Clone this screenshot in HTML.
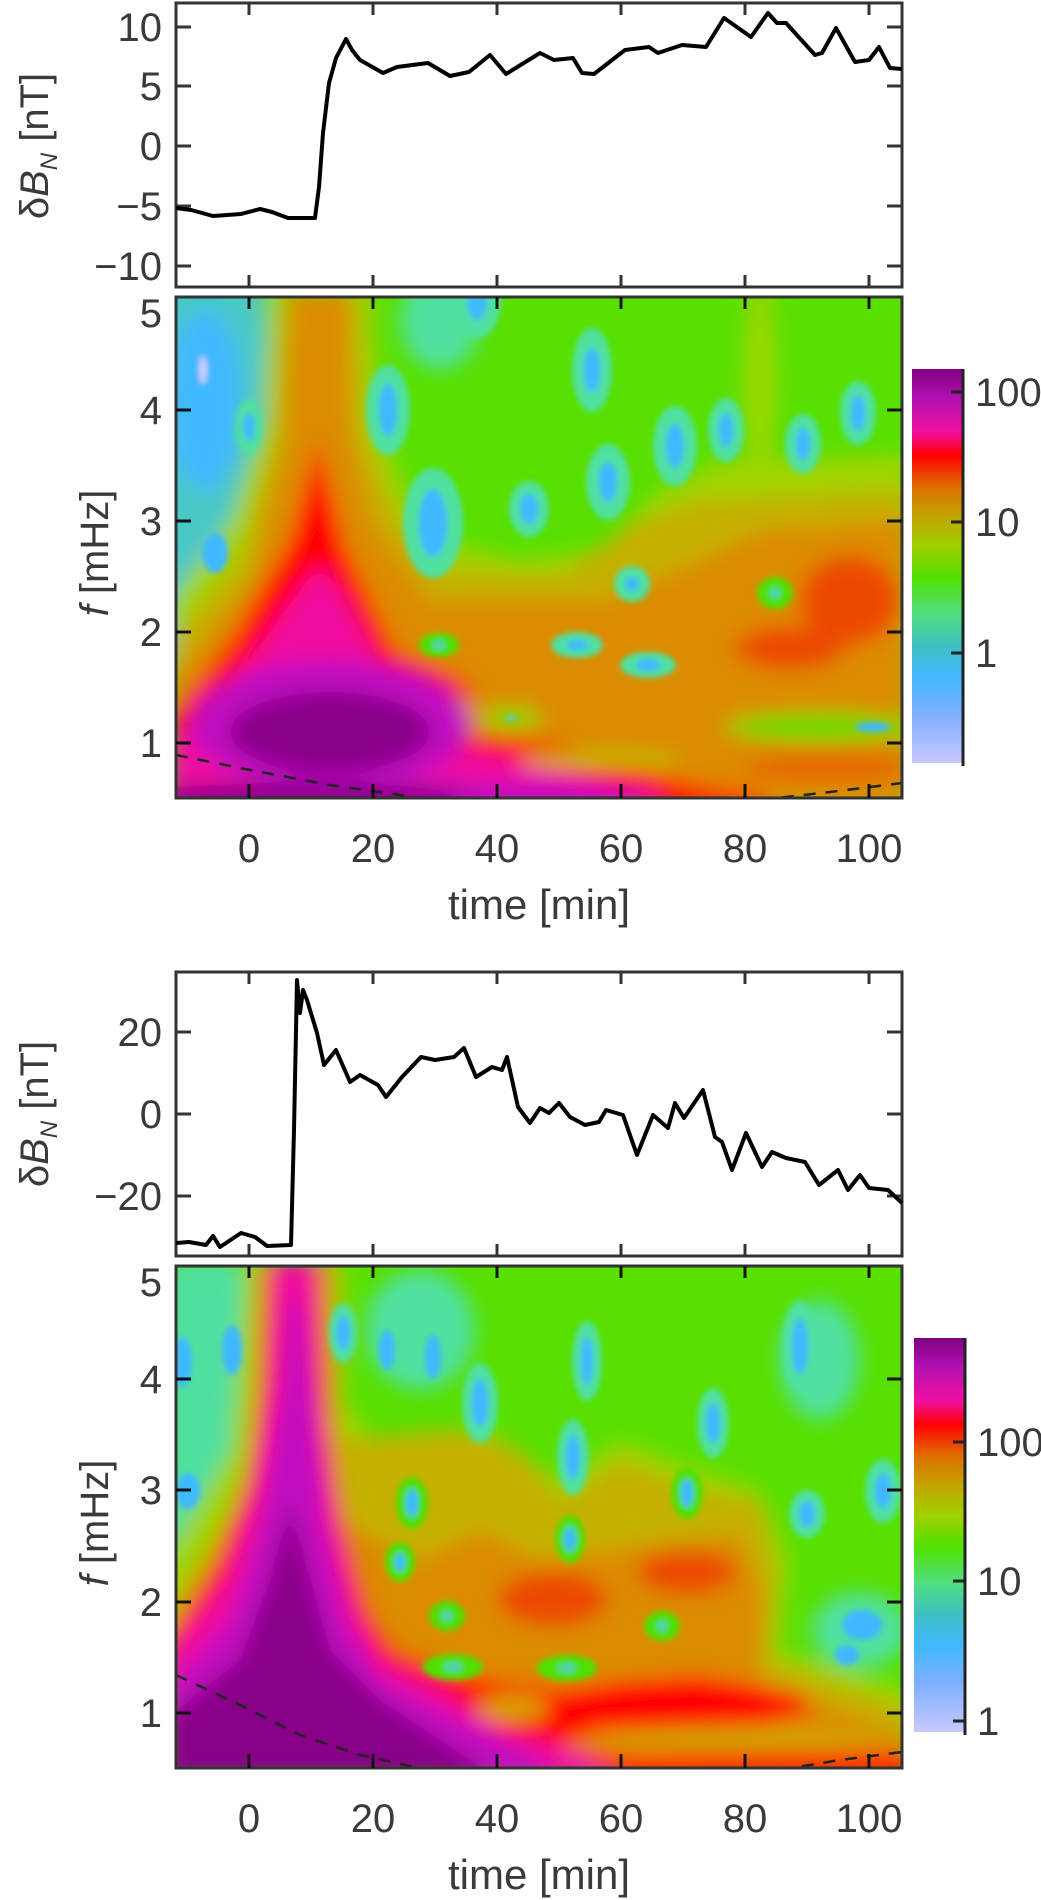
<!DOCTYPE html>
<html><head><meta charset="utf-8"><style>
html,body{margin:0;padding:0;background:#fff;}
svg{display:block;}
text{font-family:"Liberation Sans",sans-serif;fill:#3a3a3a;}
</style></head><body>
<svg width="1041" height="1900" viewBox="0 0 1041 1900" xmlns="http://www.w3.org/2000/svg">
<defs>
<filter id="b1" x="-20%" y="-20%" width="140%" height="140%"><feGaussianBlur stdDeviation="10"/></filter>
<filter id="b2" x="-50%" y="-50%" width="200%" height="200%"><feGaussianBlur stdDeviation="3"/></filter>
<clipPath id="c1"><rect x="176" y="297" width="726" height="501"/></clipPath>
<clipPath id="c2"><rect x="176" y="1266" width="726" height="502"/></clipPath>
<linearGradient id="cb" x1="0" y1="0" x2="0" y2="1">
<stop offset="0" stop-color="#800080"/><stop offset="0.07" stop-color="#b010b0"/><stop offset="0.16" stop-color="#f010a0"/>
<stop offset="0.22" stop-color="#ff0000"/><stop offset="0.30" stop-color="#e07000"/><stop offset="0.38" stop-color="#c0a800"/>
<stop offset="0.45" stop-color="#a0d000"/><stop offset="0.53" stop-color="#50e000"/><stop offset="0.62" stop-color="#50e080"/>
<stop offset="0.70" stop-color="#40c0c0"/><stop offset="0.78" stop-color="#40b8ff"/><stop offset="0.88" stop-color="#80b0ff"/>
<stop offset="1" stop-color="#c8c8ff"/></linearGradient>
</defs>

<!-- ============ PANEL 1 LINE ============ -->
<rect x="176" y="3" width="726" height="284" fill="#fff" stroke="#333" stroke-width="3"/>
<g stroke="#333" stroke-width="3">
<path d="M249 3v12M373 3v12M497 3v12M621 3v12M745 3v12M869 3v12M249 287v-12M373 287v-12M497 287v-12M621 287v-12M745 287v-12M869 287v-12"/>
<path d="M176 27h15M176 86h15M176 146h15M176 206h15M176 266h15M902 27h-15M902 86h-15M902 146h-15M902 206h-15M902 266h-15"/>
</g>
<polyline fill="none" stroke="#000" stroke-width="4" stroke-linejoin="round" points="176,208 191,210 213,216 241,214 260,209 272,212 288,218 315,218 319,187 323,133 329,83 336,58 346,39 352,50 360,60 383,73 397,67 428,63 450,76 469,72 490,55 506,74 540,53 554,60 573,58 582,73 594,74 625,50 649,47 658,53 682,45 706,47 724,18 751,37 768,13 777,23 786,23 815,55 822,53 836,28 855,62 869,60 879,47 890,68 902,69"/>
<g font-size="40" text-anchor="end">
<text x="162" y="41">10</text><text x="162" y="100">5</text><text x="162" y="160">0</text><text x="162" y="220">−5</text><text x="162" y="280">−10</text>
</g>
<text transform="translate(48,146) rotate(-90)" text-anchor="middle" font-size="40">δ<tspan font-style="italic">B</tspan><tspan font-size="24" dy="9" font-style="italic">N</tspan><tspan dy="-9"> [nT]</tspan></text>

<!-- ============ PANEL 1 SPECTROGRAM ============ -->
<g clip-path="url(#c1)">
<rect x="170" y="290" width="740" height="515" fill="#58e000"/>
<g filter="url(#b1)">
<path d="M150 280 L262 280 L272 420 L262 560 L230 640 L150 660 Z" fill="#48c8c8"/>
<ellipse cx="205" cy="400" rx="35" ry="90" fill="#40b8ff"/>
<ellipse cx="440" cy="320" rx="40" ry="50" fill="#50e0a0"/>
<ellipse cx="760" cy="380" rx="18" ry="100" fill="#98d800"/>
<path d="M268 290 L372 290 L380 420 L410 500 L460 545 L520 560 L600 550 L660 490 L720 460 L910 455 L910 810 L170 810 L170 600 L230 520 L262 420 Z" fill="#a0d400"/>
<path d="M282 290 L358 290 L365 440 L400 520 L450 570 L560 575 L640 520 L700 500 L910 490 L910 810 L170 810 L170 640 L240 560 L272 440 Z" fill="#c4b000"/>
<path d="M292 290 L348 290 L350 420 L372 520 L430 600 L600 600 L700 560 L760 530 L910 520 L910 810 L170 810 L170 680 L250 580 L285 440 Z" fill="#dc8c00"/>
<ellipse cx="850" cy="600" rx="50" ry="45" fill="#ec4800"/>
<ellipse cx="790" cy="648" rx="55" ry="22" fill="#ec4800"/>
<ellipse cx="830" cy="768" rx="90" ry="12" fill="#e86000"/>
<path d="M170 715 L230 640 L290 540 L318 440 L345 545 L395 650 L440 668 L480 690 L430 705 L470 735 L560 745 L620 765 L700 785 L770 796 L770 810 L170 810 Z" fill="#ff0000"/>
<path d="M170 745 L250 660 L300 590 L320 565 L345 600 L380 665 L410 690 L400 712 L450 745 L560 772 L660 794 L660 810 L170 810 Z" fill="#f010a0"/>
<ellipse cx="330" cy="725" rx="140" ry="65" fill="#c010c0"/>
<ellipse cx="400" cy="802" rx="250" ry="20" fill="#c010c0"/>
<ellipse cx="330" cy="732" rx="100" ry="40" fill="#880088"/>
<ellipse cx="300" cy="798" rx="170" ry="15" fill="#880088"/>
<ellipse cx="820" cy="727" rx="95" ry="13" fill="#58e000"/>
<ellipse cx="600" cy="760" rx="80" ry="6" fill="#a8d000"/>
<ellipse cx="511" cy="718" rx="30" ry="9" fill="#70e000"/>
</g>
<g filter="url(#b2)">
<g fill="#50e0a0">
<ellipse cx="249" cy="427" rx="14" ry="28"/><ellipse cx="388" cy="410" rx="22" ry="45"/><ellipse cx="433" cy="523" rx="30" ry="55"/>
<ellipse cx="477" cy="300" rx="24" ry="38"/><ellipse cx="529" cy="509" rx="20" ry="28"/><ellipse cx="592" cy="370" rx="20" ry="42"/>
<ellipse cx="608" cy="482" rx="22" ry="38"/><ellipse cx="675" cy="446" rx="22" ry="40"/><ellipse cx="726" cy="430" rx="18" ry="32"/>
<ellipse cx="803" cy="444" rx="18" ry="30"/><ellipse cx="858" cy="413" rx="18" ry="32"/><ellipse cx="632" cy="584" rx="18" ry="18"/>
<ellipse cx="648" cy="665" rx="28" ry="13"/><ellipse cx="577" cy="645" rx="26" ry="13"/>
</g>
<g fill="#50e000"><ellipse cx="775" cy="593" rx="18" ry="16"/><ellipse cx="439" cy="645" rx="20" ry="12"/></g>
<g fill="#40b8ff">
<ellipse cx="203" cy="372" rx="10" ry="30"/><ellipse cx="249" cy="427" rx="6" ry="14"/><ellipse cx="215" cy="553" rx="13" ry="20"/>
<ellipse cx="388" cy="410" rx="9" ry="26"/><ellipse cx="433" cy="523" rx="14" ry="34"/><ellipse cx="477" cy="300" rx="10" ry="20"/>
<ellipse cx="529" cy="509" rx="9" ry="15"/><ellipse cx="592" cy="370" rx="8" ry="22"/><ellipse cx="608" cy="482" rx="9" ry="20"/>
<ellipse cx="675" cy="446" rx="9" ry="22"/><ellipse cx="726" cy="430" rx="7" ry="17"/><ellipse cx="803" cy="444" rx="7" ry="16"/>
<ellipse cx="858" cy="413" rx="7" ry="18"/><ellipse cx="632" cy="584" rx="7" ry="7"/><ellipse cx="648" cy="665" rx="12" ry="6"/>
<ellipse cx="577" cy="645" rx="11" ry="5"/><ellipse cx="873" cy="727" rx="18" ry="5"/>
</g>
<g fill="#50d0c0"><ellipse cx="775" cy="593" rx="5" ry="5"/><ellipse cx="439" cy="645" rx="6" ry="4"/><ellipse cx="511" cy="718" rx="6" ry="3"/></g>
<ellipse cx="203" cy="370" rx="4" ry="14" fill="#d0d0ff"/>
</g>
<polyline fill="none" stroke="#222" stroke-width="2.5" stroke-dasharray="12 10" points="176,755 250,770 330,785 400,795 430,800"/>
<polyline fill="none" stroke="#222" stroke-width="2.5" stroke-dasharray="12 10" points="760,800 830,792 902,783"/>
</g>
<rect x="176" y="297" width="726" height="501" fill="none" stroke="#333" stroke-width="3"/>
<g stroke="#111" stroke-width="3">
<path d="M249 297v12M373 297v12M497 297v12M621 297v12M745 297v12M869 297v12M249 798v-14M373 798v-14M497 798v-14M621 798v-14M745 798v-14M869 798v-14"/>
<path d="M176 743h15M176 632h15M176 521h15M176 410h15M902 743h-15M902 632h-15M902 521h-15M902 410h-15"/>
</g>
<g font-size="40" text-anchor="end">
<text x="162" y="327">5</text><text x="162" y="424">4</text><text x="162" y="535">3</text><text x="162" y="646">2</text><text x="162" y="757">1</text>
</g>
<text transform="translate(108,553) rotate(-90)" text-anchor="middle" font-size="40"><tspan font-style="italic">f</tspan> [mHz]</text>
<g font-size="40" text-anchor="middle">
<text x="249" y="862">0</text><text x="373" y="862">20</text><text x="497" y="862">40</text><text x="621" y="862">60</text><text x="745" y="862">80</text><text x="869" y="862">100</text>
</g>
<text x="539" y="919" text-anchor="middle" font-size="42">time [min]</text>
<!-- colorbar 1 -->
<rect x="912" y="369" width="51" height="394" fill="url(#cb)"/>
<path d="M963 369V766" stroke="#222" stroke-width="3"/>
<path d="M963 392h-12M963 522h-12M963 653h-12" stroke="#222" stroke-width="3"/>
<g font-size="40"><text x="975" y="406">100</text><text x="975" y="536">10</text><text x="975" y="667">1</text></g>

<!-- ============ PANEL 2 LINE ============ -->
<rect x="176" y="972" width="726" height="284" fill="#fff" stroke="#333" stroke-width="3"/>
<g stroke="#333" stroke-width="3">
<path d="M249 972v12M373 972v12M497 972v12M621 972v12M745 972v12M869 972v12M249 1256v-12M373 1256v-12M497 1256v-12M621 1256v-12M745 1256v-12M869 1256v-12"/>
<path d="M176 1032h15M176 1114h15M176 1196h15M902 1032h-15M902 1114h-15M902 1196h-15"/>
</g>
<polyline fill="none" stroke="#000" stroke-width="4" stroke-linejoin="round" points="176,1243 189,1242 206,1245 213,1236 220,1247 241,1233 255,1237 267,1246 291,1245 294,1130 297,980 300,1013 303,990 307,1000 317,1033 324,1065 336,1050 350,1082 360,1075 378,1085 386,1097 402,1077 421,1057 435,1060 454,1057 464,1048 476,1077 492,1067 502,1070 507,1057 518,1107 530,1123 540,1108 549,1113 559,1103 570,1117 585,1125 599,1122 606,1110 623,1115 637,1155 653,1115 668,1128 675,1103 684,1118 703,1090 715,1137 722,1142 732,1170 746,1133 762,1167 772,1152 786,1158 805,1162 819,1185 838,1170 848,1190 860,1175 869,1188 888,1190 902,1203"/>
<g font-size="40" text-anchor="end">
<text x="162" y="1046">20</text><text x="162" y="1128">0</text><text x="162" y="1210">−20</text>
</g>
<text transform="translate(48,1114) rotate(-90)" text-anchor="middle" font-size="40">δ<tspan font-style="italic">B</tspan><tspan font-size="24" dy="9" font-style="italic">N</tspan><tspan dy="-9"> [nT]</tspan></text>

<!-- ============ PANEL 2 SPECTROGRAM ============ -->
<g clip-path="url(#c2)">
<rect x="170" y="1260" width="740" height="515" fill="#58e000"/>
<g filter="url(#b1)">
<path d="M165 1260 L240 1260 L252 1400 L240 1520 L210 1600 L165 1625 Z" fill="#50e0a0"/>
<ellipse cx="420" cy="1330" rx="55" ry="60" fill="#50e0a0"/>
<ellipse cx="820" cy="1360" rx="40" ry="60" fill="#50e0a0"/>
<ellipse cx="860" cy="1630" rx="48" ry="38" fill="#50e0a0"/>
<path d="M245 1260 L345 1260 L345 1400 L380 1450 L480 1425 L560 1480 L620 1440 L700 1470 L760 1490 L790 1560 L780 1650 L910 1690 L910 1780 L165 1780 L165 1560 L230 1450 Z" fill="#a0d400"/>
<path d="M255 1260 L335 1260 L340 1440 L450 1430 L520 1450 L560 1500 L620 1460 L700 1490 L760 1500 L775 1570 L770 1660 L910 1710 L910 1780 L165 1780 L165 1610 L255 1480 Z" fill="#c4b000"/>
<path d="M262 1260 L325 1260 L340 1520 L420 1560 L480 1530 L540 1560 L640 1545 L740 1535 L765 1600 L760 1680 L910 1735 L910 1780 L165 1780 L165 1670 L245 1560 Z" fill="#dc8c00"/>
<ellipse cx="553" cy="1599" rx="55" ry="28" fill="#ec4800"/>
<ellipse cx="687" cy="1572" rx="50" ry="22" fill="#ec4800"/>
<path d="M165 1690 L165 1640 L215 1560 L245 1480 L262 1380 L268 1260 L320 1260 L326 1420 L345 1530 L368 1610 L395 1650 L460 1675 L560 1690 L620 1680 L700 1675 L800 1692 L815 1712 L760 1725 L600 1730 L560 1745 L620 1756 L910 1752 L910 1780 L165 1780 Z" fill="#ff0000"/>
<ellipse cx="513" cy="1708" rx="35" ry="12" fill="#d0a800"/>
<ellipse cx="750" cy="1739" rx="150" ry="6" fill="#c8b000"/>
<path d="M165 1700 L165 1660 L225 1580 L255 1490 L272 1380 L275 1260 L313 1260 L318 1400 L335 1520 L355 1610 L380 1660 L440 1690 L510 1735 L580 1752 L620 1780 L165 1780 Z" fill="#f010a0"/>
<path d="M165 1720 L165 1690 L230 1620 L262 1520 L282 1400 L290 1300 L300 1300 L310 1400 L322 1520 L345 1620 L380 1680 L460 1720 L540 1760 L560 1780 L165 1780 Z" fill="#c010c0"/>
<path d="M165 1780 L165 1720 L240 1660 L270 1580 L290 1500 L305 1560 L330 1650 L380 1700 L440 1740 L500 1780 Z" fill="#880088"/>
</g>
<g filter="url(#b2)">
<g fill="#50e000">
<ellipse cx="447" cy="1616" rx="18" ry="15"/><ellipse cx="662" cy="1626" rx="18" ry="15"/><ellipse cx="453" cy="1667" rx="30" ry="13"/>
<ellipse cx="567" cy="1668" rx="30" ry="13"/><ellipse cx="400" cy="1562" rx="15" ry="20"/><ellipse cx="412" cy="1503" rx="16" ry="26"/>
<ellipse cx="570" cy="1539" rx="15" ry="24"/><ellipse cx="687" cy="1493" rx="16" ry="26"/>
</g>
<g fill="#50e0a0">
<ellipse cx="573" cy="1457" rx="16" ry="38"/><ellipse cx="713" cy="1423" rx="16" ry="35"/><ellipse cx="480" cy="1403" rx="18" ry="40"/>
<ellipse cx="587" cy="1361" rx="15" ry="40"/><ellipse cx="800" cy="1346" rx="18" ry="45"/><ellipse cx="807" cy="1514" rx="18" ry="24"/>
<ellipse cx="883" cy="1491" rx="18" ry="32"/><ellipse cx="343" cy="1333" rx="14" ry="30"/>
</g>
<g fill="#40b8ff">
<ellipse cx="182" cy="1362" rx="10" ry="25"/><ellipse cx="232" cy="1350" rx="10" ry="25"/><ellipse cx="188" cy="1491" rx="12" ry="18"/>
<ellipse cx="387" cy="1350" rx="8" ry="20"/><ellipse cx="433" cy="1357" rx="8" ry="22"/><ellipse cx="343" cy="1333" rx="7" ry="17"/>
<ellipse cx="862" cy="1625" rx="20" ry="15"/><ellipse cx="847" cy="1655" rx="12" ry="10"/>
<ellipse cx="573" cy="1457" rx="7" ry="22"/><ellipse cx="713" cy="1423" rx="7" ry="20"/><ellipse cx="480" cy="1403" rx="8" ry="24"/>
<ellipse cx="587" cy="1361" rx="6" ry="24"/><ellipse cx="800" cy="1346" rx="8" ry="28"/><ellipse cx="807" cy="1514" rx="8" ry="13"/>
<ellipse cx="883" cy="1491" rx="8" ry="18"/><ellipse cx="412" cy="1503" rx="6" ry="14"/><ellipse cx="687" cy="1493" rx="6" ry="14"/>
<ellipse cx="570" cy="1539" rx="6" ry="12"/><ellipse cx="400" cy="1562" rx="5" ry="9"/>
</g>
<g fill="#50d0c0">
<ellipse cx="447" cy="1616" rx="5" ry="5"/><ellipse cx="662" cy="1626" rx="5" ry="5"/><ellipse cx="453" cy="1667" rx="9" ry="4"/><ellipse cx="567" cy="1668" rx="9" ry="4"/>
</g>
</g>
<polyline fill="none" stroke="#222" stroke-width="2.5" stroke-dasharray="12 10" points="176,1675 240,1705 300,1735 360,1755 420,1768"/>
<polyline fill="none" stroke="#222" stroke-width="2.5" stroke-dasharray="12 10" points="780,1770 840,1760 902,1752"/>
</g>
<rect x="176" y="1266" width="726" height="502" fill="none" stroke="#333" stroke-width="3"/>
<g stroke="#111" stroke-width="3">
<path d="M249 1266v12M373 1266v12M497 1266v12M621 1266v12M745 1266v12M869 1266v12M249 1768v-14M373 1768v-14M497 1768v-14M621 1768v-14M745 1768v-14M869 1768v-14"/>
<path d="M176 1713h15M176 1602h15M176 1490h15M176 1379h15M902 1713h-15M902 1602h-15M902 1490h-15M902 1379h-15"/>
</g>
<g font-size="40" text-anchor="end">
<text x="162" y="1296">5</text><text x="162" y="1393">4</text><text x="162" y="1504">3</text><text x="162" y="1616">2</text><text x="162" y="1727">1</text>
</g>
<text transform="translate(108,1523) rotate(-90)" text-anchor="middle" font-size="40"><tspan font-style="italic">f</tspan> [mHz]</text>
<g font-size="40" text-anchor="middle">
<text x="249" y="1832">0</text><text x="373" y="1832">20</text><text x="497" y="1832">40</text><text x="621" y="1832">60</text><text x="745" y="1832">80</text><text x="869" y="1832">100</text>
</g>
<text x="539" y="1889" text-anchor="middle" font-size="42">time [min]</text>
<!-- colorbar 2 -->
<rect x="914" y="1338" width="51" height="394" fill="url(#cb)"/>
<path d="M965 1338V1735" stroke="#222" stroke-width="3"/>
<path d="M965 1442h-12M965 1581h-12M965 1721h-12" stroke="#222" stroke-width="3"/>
<g font-size="40"><text x="977" y="1456">100</text><text x="977" y="1595">10</text><text x="977" y="1735">1</text></g>
</svg>
</body></html>
